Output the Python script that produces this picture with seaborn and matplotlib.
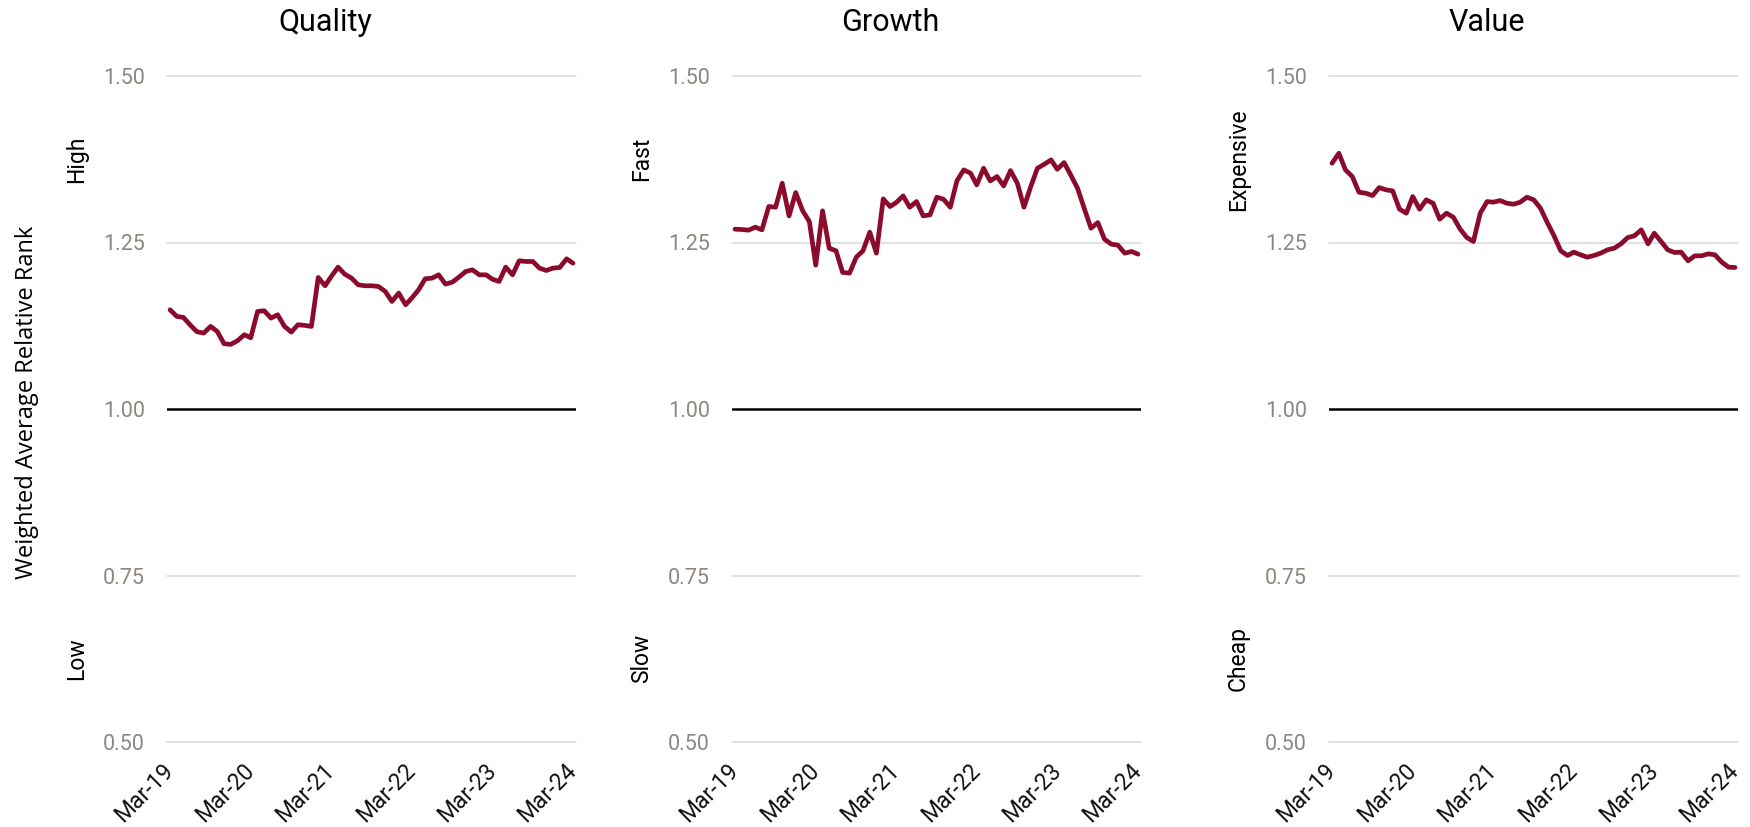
import numpy as np
import pandas as pd
import matplotlib
matplotlib.use("Agg")
import matplotlib.pyplot as plt
import matplotlib.dates as mdates
import seaborn as sns

# Monthly weighted average relative rank, Mar-2019 .. Mar-2024
dates = pd.date_range("2019-03-01", periods=61, freq="MS")

quality = [
    1.149, 1.139, 1.1375, 1.126, 1.116, 1.114, 1.124, 1.1165, 1.098, 1.097,
    1.1025, 1.1115, 1.107, 1.1465, 1.1475, 1.1365, 1.1415, 1.124, 1.1155, 1.1265,
    1.1255, 1.124, 1.1975, 1.185, 1.199, 1.213, 1.2025, 1.1965, 1.1865, 1.185,
    1.185, 1.184, 1.1765, 1.1615, 1.174, 1.1565, 1.1665, 1.179, 1.1955, 1.1965,
    1.2015, 1.1875, 1.1905, 1.198, 1.2065, 1.209, 1.2015, 1.2015, 1.195, 1.1915,
    1.213, 1.2015, 1.2225, 1.2215, 1.2215, 1.2115, 1.208, 1.2115, 1.2125, 1.2255,
    1.219,
]
growth = [
    1.27, 1.2695, 1.2685, 1.273, 1.269, 1.304, 1.303, 1.339, 1.29, 1.325,
    1.298, 1.2815, 1.216, 1.2975, 1.2415, 1.2375, 1.205, 1.204, 1.228, 1.2375,
    1.2655, 1.234, 1.3155, 1.304, 1.31, 1.32, 1.303, 1.3115, 1.29, 1.2915,
    1.318, 1.315, 1.303, 1.3425, 1.359, 1.354, 1.3365, 1.3615, 1.3425, 1.349,
    1.335, 1.358, 1.339, 1.303, 1.334, 1.3615, 1.3675, 1.374, 1.36, 1.37,
    1.3515, 1.3315, 1.3015, 1.2715, 1.28, 1.255, 1.2475, 1.246, 1.234, 1.2365,
    1.2325,
]
value = [
    1.369, 1.384, 1.359, 1.349, 1.3255, 1.324, 1.3205, 1.3325, 1.329, 1.3275,
    1.30, 1.294, 1.319, 1.30, 1.314, 1.309, 1.285, 1.294, 1.288, 1.2705,
    1.2575, 1.2515, 1.294, 1.3115, 1.3105, 1.313, 1.309, 1.3075, 1.3105, 1.318,
    1.314, 1.3015, 1.28, 1.2605, 1.2375, 1.2305, 1.2355, 1.2315, 1.228, 1.2305,
    1.234, 1.239, 1.2415, 1.248, 1.2575, 1.26, 1.269, 1.248, 1.264, 1.2515,
    1.239, 1.235, 1.2355, 1.2225, 1.23, 1.23, 1.233, 1.2315, 1.2205, 1.213,
    1.2125,
]

titles = ["Quality", "Growth", "Value"]
high_labels = ["High", "Fast", "Expensive"]
low_labels = ["Low", "Slow", "Cheap"]
y_ticks = [0.50, 0.75, 1.00, 1.25, 1.50]
y_label = "Weighted Average Relative Rank"

series = [quality, growth, value]

sns.set_theme(style="white")
plt.rcParams["font.family"] = ["Roboto", "DejaVu Sans"]

LINE = "#8b0b2d"
GRID = "#d9d9d9"
TICK_GREY = "#8c8781"

W, H = 1750, 827
fig = plt.figure(figsize=(W / 100, H / 100), dpi=100)

lefts_px = [167, 732, 1329]
ax_w_px = 409
top_px, bot_px = 76, 742

for i, (left, vals) in enumerate(zip(lefts_px, series)):
    ax = fig.add_axes([left / W, 1 - bot_px / H, ax_w_px / W, (bot_px - top_px) / H])
    df = pd.DataFrame({"date": dates, "rank": vals})

    for yt in y_ticks:
        if yt != 1.0:
            ax.axhline(yt, color=GRID, lw=1.1, zorder=0, clip_on=False)
    ax.axhline(1.0, color="black", lw=1.8, zorder=1)

    sns.lineplot(data=df, x="date", y="rank", ax=ax, color=LINE, lw=3.4,
                 zorder=3, legend=False)

    ax.set_ylim(0.5, 1.5)
    span = dates[-1] - dates[0]
    ax.set_xlim(dates[0] - span * 0.0075, dates[-1] + span * 0.0075)

    ax.set_yticks(y_ticks)
    ax.set_yticklabels([f"{v:.2f}" for v in y_ticks])
    ax.xaxis.set_major_locator(mdates.MonthLocator(bymonth=3))
    ax.xaxis.set_major_formatter(mdates.DateFormatter("%b-%y"))

    ax.tick_params(axis="y", length=0, pad=16, labelsize=15.5, labelcolor=TICK_GREY)
    ax.tick_params(axis="x", length=0, pad=18, labelsize=16.5, labelcolor="#111111")
    for lbl in ax.get_xticklabels():
        lbl.set_rotation(45)
        lbl.set_ha("right")
        lbl.set_va("center")
        lbl.set_rotation_mode("anchor")

    ax.set_xlabel("")
    ax.set_ylabel("")
    ax.grid(False)
    for sp in ax.spines.values():
        sp.set_visible(False)

    ax.text(-0.221, 1.375, high_labels[i], transform=ax.get_yaxis_transform(),
            rotation=90, ha="center", va="center", fontsize=16.5, color="black")
    ax.text(-0.221, 0.625, low_labels[i], transform=ax.get_yaxis_transform(),
            rotation=90, ha="center", va="center", fontsize=16.5, color="black")

    ax.text(0.387, 1 + 45 / (bot_px - top_px), titles[i], transform=ax.transAxes,
            ha="center", va="baseline", fontsize=22, color="black")

fig.text(27 / W, 1 - 402 / H, y_label, rotation=90, ha="center", va="center",
         fontsize=17, color="black", family=["Open Sans", "DejaVu Sans"])

fig.savefig("out.png", dpi=100)
